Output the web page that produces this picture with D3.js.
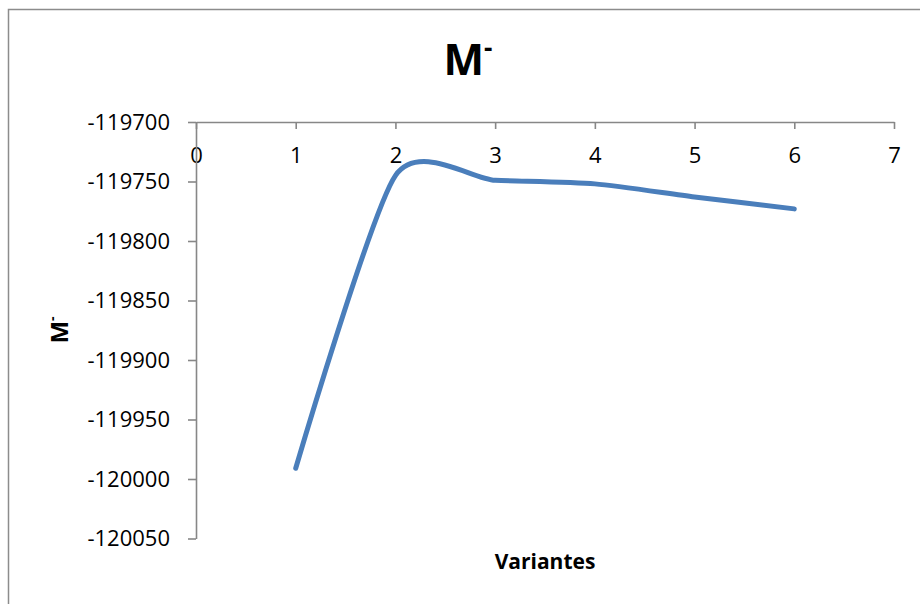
<!DOCTYPE html>
<html>
<head>
<meta charset="utf-8">
<script src="https://cdn.jsdelivr.net/npm/d3@7"></script>
<style>
  html, body { margin: 0; padding: 0; background: #fff; }
  svg { display: block; }
  text { font-family: "Open Sans", "DejaVu Sans", sans-serif; fill: #000; }
</style>
</head>
<body>
<svg id="chart" width="920" height="604"></svg>
<script>
// Variants on the x axis and the M- moment value for each one
const variantes = [1, 2, 3, 4, 5, 6];
const mMinus = [-119991, -119745, -119749, -119752, -119763, -119773];
const xTicks = [0, 1, 2, 3, 4, 5, 6, 7];
const yTicks = [-119700, -119750, -119800, -119850, -119900, -119950, -120000, -120050];

const svg = d3.select("#chart");
const axisColor = "#878787";

// outer chart frame (only the top and left edges fall inside the view)
svg.append("rect")
  .attr("x", 8.5).attr("y", 9.5)
  .attr("width", 960).attr("height", 640)
  .attr("fill", "none")
  .attr("stroke", "#8c8c8c")
  .attr("stroke-width", 1.5);

const x = d3.scaleLinear().domain([0, 7]).range([196, 894]);
const y = d3.scaleLinear().domain([-119700, -120050]).range([122, 538.5]);

// horizontal axis sits at the top value of the vertical scale
const xAxis = svg.append("g")
  .attr("transform", `translate(0,${y(-119700)})`)
  .call(d3.axisBottom(x).tickValues(xTicks).tickSize(7).tickSizeOuter(0).tickFormat(d3.format("d")));
xAxis.select(".domain").attr("stroke", axisColor).attr("stroke-width", 1.6);
xAxis.selectAll(".tick line").attr("stroke", axisColor).attr("stroke-width", 1.6);
xAxis.selectAll(".tick text")
  .attr("y", 0).attr("dy", null)
  .attr("transform", "translate(0,41)")
  .attr("font-size", 22)
  .attr("font-family", "'Open Sans', sans-serif")
  .attr("fill", "#000");

const yAxis = svg.append("g")
  .attr("transform", `translate(${x(0)},0)`)
  .call(d3.axisLeft(y).tickValues(yTicks).tickSize(8).tickSizeOuter(0).tickFormat(d3.format("d")));
yAxis.select(".domain").attr("stroke", axisColor).attr("stroke-width", 1.6);
yAxis.selectAll(".tick line").attr("stroke", axisColor).attr("stroke-width", 1.6);
yAxis.selectAll(".tick text")
  .attr("x", -26)
  .attr("font-size", 22)
  .attr("font-family", "'Open Sans', sans-serif")
  .attr("fill", "#000")
  .text(d => d3.format("d")(d).replace("\u2212", "-"));

// smoothed series line
const line = d3.line()
  .x((d, i) => x(variantes[i]))
  .y(d => y(d))
  .curve(d3.curveCardinal.tension(0.3));

svg.append("path")
  .datum(mMinus)
  .attr("d", line)
  .attr("fill", "none")
  .attr("stroke", "#4a7ebb")
  .attr("stroke-width", 5)
  .attr("stroke-linecap", "round")
  .attr("stroke-linejoin", "round");

// chart title
const title = svg.append("text")
  .attr("x", 468).attr("y", 75)
  .attr("text-anchor", "middle")
  .attr("font-size", 43)
  .attr("font-weight", "bold");
title.append("tspan").text("M");
title.append("tspan").attr("font-size", 26).attr("dy", -18).text("-");

// axis titles
svg.append("text")
  .attr("x", 545).attr("y", 569)
  .attr("text-anchor", "middle")
  .attr("font-size", 21)
  .attr("font-weight", "bold")
  .text("Variantes");

const yTitle = svg.append("text")
  .attr("transform", "translate(68,330) rotate(-90)")
  .attr("text-anchor", "middle")
  .attr("font-size", 24)
  .attr("font-weight", "bold");
yTitle.append("tspan").text("M");
yTitle.append("tspan").attr("font-size", 14).attr("dy", -11).text("-");
</script>
</body>
</html>
